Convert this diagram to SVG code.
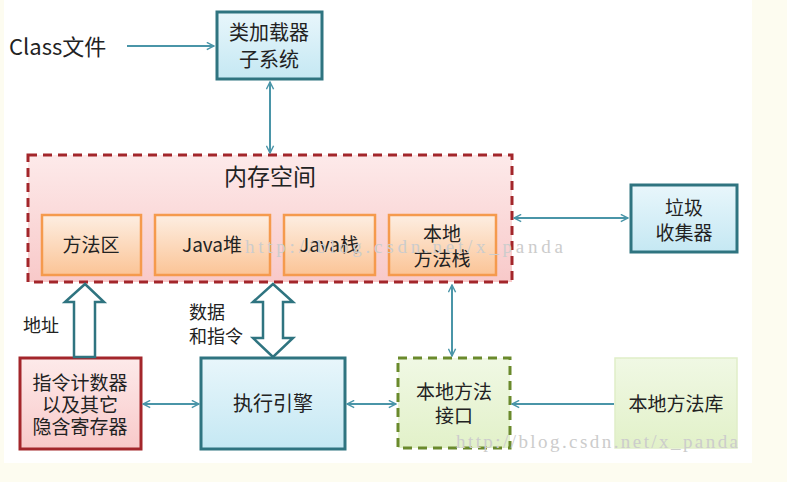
<svg xmlns="http://www.w3.org/2000/svg" width="787" height="482" viewBox="0 0 787 482">
<defs>
<linearGradient id="gBlue" x1="0" y1="0" x2="0" y2="1"><stop offset="0" stop-color="#e8f6fb"/><stop offset="1" stop-color="#c5e8f3"/></linearGradient>
<linearGradient id="gPink" x1="0" y1="0" x2="0" y2="1"><stop offset="0" stop-color="#fdeaea"/><stop offset="1" stop-color="#f8c9c9"/></linearGradient>
<linearGradient id="gOrange" x1="0" y1="0" x2="0" y2="1"><stop offset="0" stop-color="#fdeee2"/><stop offset="1" stop-color="#fbc496"/></linearGradient>
<linearGradient id="gGreen" x1="0" y1="0" x2="0" y2="1"><stop offset="0" stop-color="#f0f8e4"/><stop offset="1" stop-color="#e2f1c9"/></linearGradient>
<marker id="ah" viewBox="0 0 10 10" refX="9" refY="5" markerWidth="9" markerHeight="9" markerUnits="userSpaceOnUse" orient="auto-start-reverse"><path d="M1,1 L9,5 L1,9" fill="none" stroke="#4a95a8" stroke-width="1.6"/></marker>
</defs>
<style>
text{font-family:"Noto Sans CJK SC","Liberation Sans",sans-serif;fill:#222;}
.t{font-size:19px;text-anchor:middle;}
.blue{fill:url(#gBlue);stroke:#2f7480;stroke-width:3;}
.org{fill:url(#gOrange);stroke:#f59a4d;stroke-width:2.5;}
.conn{stroke:#4a95a8;stroke-width:2;fill:none;}
.hollow{fill:#fff;stroke:#2f7480;stroke-width:2.5;}
.wm{font-family:"Liberation Serif",serif;font-size:19px;fill:#cccccc;}
</style>
<rect x="0" y="0" width="787" height="482" fill="#fdfcf0"/>
<rect x="4" y="0" width="748" height="463" fill="#ffffff"/>

<g id="class-file"><text x="9" y="55" style="font-size:22px;text-anchor:start">Class文件</text></g>

<g id="classloader"><rect class="blue" x="217" y="12" width="105" height="67"/>
<text class="t" x="269" y="40" style="font-size:20px">类加载器</text><text class="t" x="269" y="67" style="font-size:20px">子系统</text></g>

<g id="memory">
<rect x="28" y="155" width="484" height="127" fill="url(#gPink)" stroke="#a3262b" stroke-width="3" stroke-dasharray="9,6"/>
<text class="t" x="270" y="185" style="font-size:23px">内存空间</text>
<g id="method-area"><rect class="org" x="42" y="215" width="99" height="60"/><text class="t" x="91" y="252">方法区</text></g>
<g id="java-heap"><rect class="org" x="155" y="215" width="115" height="60"/><text class="t" x="212" y="252">Java堆</text></g>
<g id="java-stack"><rect class="org" x="284" y="215" width="91" height="60"/><text class="t" x="329" y="252">Java栈</text></g>
<g id="native-stack"><rect class="org" x="389" y="215" width="107" height="60"/><text class="t" x="442" y="241">本地</text><text class="t" x="442" y="266">方法栈</text></g>
</g>

<g id="gc"><rect class="blue" x="631" y="185" width="106" height="67"/>
<text class="t" x="684" y="215">垃圾</text><text class="t" x="684" y="240">收集器</text></g>

<g id="pc"><rect x="20" y="358" width="121" height="91" fill="url(#gPink)" stroke="#a3262b" stroke-width="3"/>
<text class="t" x="80" y="390">指令计数器</text><text class="t" x="80" y="412">以及其它</text><text class="t" x="80" y="434">隐含寄存器</text></g>

<g id="engine"><rect class="blue" x="201" y="358" width="144" height="91"/>
<text class="t" x="273" y="411" style="font-size:20px">执行引擎</text></g>

<g id="native-interface"><rect x="398" y="358" width="112" height="90" fill="url(#gGreen)" stroke="#6a8a2c" stroke-width="3" stroke-dasharray="9,6"/>
<text class="t" x="454" y="399">本地方法</text><text class="t" x="454" y="423">接口</text></g>

<g id="native-lib"><rect x="615" y="358" width="122" height="90" fill="url(#gGreen)" stroke="#e0eec8" stroke-width="1.5"/>
<text class="t" x="676" y="411">本地方法库</text></g>

<g id="connectors">
<line class="conn" x1="127" y1="46" x2="214" y2="46" marker-end="url(#ah)"/>
<line class="conn" x1="270" y1="82" x2="270" y2="153" marker-start="url(#ah)" marker-end="url(#ah)"/>
<line class="conn" x1="514" y1="218" x2="628" y2="218" marker-start="url(#ah)" marker-end="url(#ah)"/>
<line class="conn" x1="452" y1="285" x2="452" y2="356" marker-start="url(#ah)" marker-end="url(#ah)"/>
<line class="conn" x1="143" y1="404" x2="199" y2="404" marker-start="url(#ah)" marker-end="url(#ah)"/>
<line class="conn" x1="347" y1="404" x2="396" y2="404" marker-start="url(#ah)" marker-end="url(#ah)"/>
<line class="conn" x1="614" y1="404" x2="512" y2="404" marker-end="url(#ah)"/>
<path class="hollow" d="M85,284 L104,302 L95,302 L95,357 L74,357 L74,302 L65,302 Z"/>
<path class="hollow" d="M273,284 L293,302 L283,302 L283,338 L293,338 L273,357 L253,338 L263,338 L263,302 L253,302 Z"/>
<text x="23" y="332" style="font-size:18px">地址</text>
<text x="189" y="319" style="font-size:18px">数据</text>
<text x="189" y="343" style="font-size:18px">和指令</text>
</g>

<text class="wm" x="245" y="253" textLength="318">http://blog.csdn.net/x_panda</text>
<text class="wm" x="456" y="448" textLength="282">http://blog.csdn.net/x_panda</text>
</svg>
